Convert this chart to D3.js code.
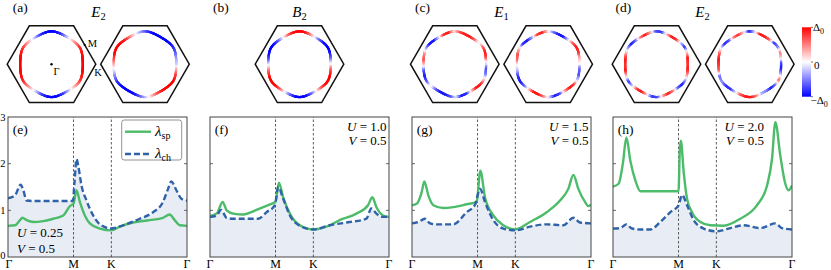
<!DOCTYPE html>
<html><head><meta charset="utf-8">
<script src="https://cdn.jsdelivr.net/npm/d3@7/dist/d3.min.js"></script>
<style>html,body{margin:0;padding:0;background:#fff;} svg{display:block;} text{font-family:"Liberation Serif","DejaVu Serif",serif;}</style>
</head><body>
<svg id="chart" width="831" height="270"></svg>
<script>
// ================= DATA =================
const pathTickPos = [0, 1, 1.5774, 2.7321];
const pathTickLabels = ["Γ", "M", "K", "Γ"];
const yTickValues = [0, 1, 2, 3];
const panelLetters = ["(e)", "(f)", "(g)", "(h)"];
const uValues = ["0.25", "1.0", "1.5", "2.0"];
const vValues = ["0.5", "0.5", "0.5", "0.5"];
const topLetters = ["(a)", "(b)", "(c)", "(d)"];
const topIrreps = [["E", "2"], ["B", "2"], ["E", "1"], ["E", "2"]];
const legendLabels = [["λ", "sp"], ["λ", "ch"]];
const colorbarLabels = ["Δ", "0", "−Δ"];

// eigenvalue curves: [path coordinate (Γ-M = 1), λ]
const spE = [[0,0.667],[0.107,0.68],[0.183,0.79],[0.218,0.84],[0.284,0.79],[0.386,0.75],[0.538,0.77],[0.691,0.82],[0.843,0.89],[0.945,1.09],[1.0,1.14],[1.046,1.43],[1.097,1.18],[1.173,0.89],[1.249,0.72],[1.402,0.61],[1.577,0.57],[1.706,0.65],[1.909,0.74],[2.163,0.79],[2.366,0.84],[2.468,0.91],[2.544,0.79],[2.620,0.68],[2.732,0.667]];
const chE = [[0,1.26],[0.107,1.32],[0.193,1.55],[0.234,1.43],[0.284,1.21],[0.386,1.2],[0.99,1.2],[1.015,1.6],[1.046,2.1],[1.071,1.96],[1.122,1.53],[1.198,1.21],[1.3,0.89],[1.402,0.70],[1.577,0.61],[1.757,0.68],[2.011,0.82],[2.214,0.96],[2.366,1.18],[2.443,1.46],[2.493,1.62],[2.570,1.43],[2.646,1.25],[2.732,1.21]];
const spF = [[0,0.88],[0.102,0.93],[0.193,1.18],[0.254,1.0],[0.355,0.93],[0.508,0.91],[0.660,0.98],[0.812,1.07],[0.939,1.14],[1.0,1.18],[1.051,1.59],[1.117,1.28],[1.219,0.93],[1.371,0.68],[1.577,0.59],[1.777,0.65],[1.980,0.79],[2.234,0.93],[2.412,1.11],[2.478,1.28],[2.539,1.07],[2.641,0.89],[2.732,0.86]];
const chF = [[0,0.86],[0.102,0.89],[0.168,1.01],[0.254,0.84],[0.355,0.82],[0.736,0.82],[0.863,0.96],[0.99,1.11],[1.041,1.5],[1.117,1.25],[1.219,0.89],[1.371,0.67],[1.577,0.59],[1.828,0.68],[2.133,0.75],[2.387,0.82],[2.463,1.04],[2.539,0.93],[2.641,0.86],[2.732,0.86]];
const spG = [[0,1.11],[0.071,1.14],[0.148,1.39],[0.188,1.62],[0.249,1.32],[0.326,1.11],[0.478,1.05],[0.631,1.07],[0.834,1.13],[0.987,1.18],[1.043,1.85],[1.114,1.28],[1.241,0.89],[1.394,0.68],[1.577,0.59],[1.801,0.75],[2.056,0.96],[2.259,1.21],[2.386,1.46],[2.463,1.76],[2.539,1.46],[2.641,1.18],[2.692,1.09],[2.732,1.12]];
const chG = [[0,0.72],[0.097,0.75],[0.198,0.82],[0.275,0.72],[0.377,0.70],[0.631,0.70],[0.834,0.96],[0.962,1.12],[1.038,1.46],[1.114,1.18],[1.241,0.79],[1.394,0.61],[1.577,0.57],[1.801,0.65],[2.056,0.70],[2.310,0.68],[2.463,0.84],[2.564,0.74],[2.732,0.72]];
const spH = [[0,1.51],[0.086,1.57],[0.153,2.03],[0.204,2.56],[0.265,2.06],[0.341,1.64],[0.417,1.41],[1.0,1.41],[1.02,2.3],[1.036,2.49],[1.079,1.82],[1.13,1.25],[1.206,0.96],[1.333,0.75],[1.486,0.68],[1.689,0.67],[1.944,0.82],[2.198,1.11],[2.351,1.53],[2.427,2.1],[2.478,2.89],[2.554,2.17],[2.630,1.57],[2.681,1.43],[2.732,1.53]];
const chH = [[0,0.61],[0.112,0.62],[0.204,0.70],[0.290,0.61],[0.417,0.59],[0.570,0.59],[0.722,0.75],[0.875,0.96],[1.002,1.11],[1.053,1.33],[1.13,1.11],[1.231,0.79],[1.384,0.61],[1.577,0.55],[1.791,0.62],[1.994,0.68],[2.249,0.62],[2.478,0.72],[2.580,0.62],[2.732,0.59]];

// gap on the Fermi surface, sampled every 10° (screen angle, clockwise from +x), in units of Δ0
const gapA1 = [1,1,0.95,0.8,0.5,0.15,-0.3,-0.75,-0.95,-1,-0.95,-0.75,-0.3,0.15,0.5,0.8,0.95,1,1,1,0.95,0.8,0.5,0.15,-0.3,-0.75,-0.95,-1,-0.95,-0.75,-0.3,0.15,0.5,0.8,0.95,1];
const gapA2 = [-0.2,0.3,0.75,0.95,1,1,0.9,0.65,0.25,-0.2,-0.6,-0.9,-1,-1,-0.95,-0.8,-0.5,-0.15,0.25,0.65,0.95,1,1,0.9,0.6,0.2,-0.25,-0.6,-0.9,-1,-1,-1,-0.95,-0.85,-0.65,-0.4];
const gapB  = [0,0.6,0.95,1,0.95,0.6,0,-0.6,-0.95,-1,-0.95,-0.6,0,0.6,0.95,1,0.95,0.6,0,-0.6,-0.95,-1,-0.95,-0.6,0,0.6,0.95,1,0.95,0.6,0,-0.6,-0.95,-1,-0.95,-0.6];
const gapC1 = [-0.2,-0.7,-0.5,0.3,0.9,0.9,0.2,-0.8,-0.9,-0.1,-0.7,-0.9,-0.9,-0.6,0.1,-0.6,-0.9,-0.7,0.2,0.7,0.5,-0.3,-0.9,-0.9,-0.2,0.8,0.9,0.1,0.7,0.9,0.9,0.6,-0.1,0.6,0.9,0.7];
const gapC2 = [0,-0.6,-0.7,-0.2,0.8,0.9,0.4,-0.7,-0.9,-0.2,0.5,0.9,0.9,0.2,-0.6,-0.9,-0.8,-0.3,0,0.6,0.7,0.2,-0.8,-0.9,-0.4,0.7,0.9,0.2,-0.5,-0.9,-0.9,-0.2,0.6,0.9,0.8,0.3];
const gapD1 = [0.8,0.9,0.5,-0.3,-0.9,-0.6,0.5,0.9,0.4,-0.7,-0.8,0.2,0.9,0.8,-0.2,-0.8,0.2,0.9,0.8,0.9,0.5,-0.3,-0.9,-0.6,0.5,0.9,0.4,-0.7,-0.8,0.2,0.9,0.8,-0.2,-0.8,0.2,0.9];
const gapD2 = [-0.8,-0.9,-0.2,0.6,-0.5,-0.9,-0.5,-0.3,0.5,0.9,0.9,0.6,-0.2,-0.8,-0.8,-0.4,-0.6,0.6,0.8,0.9,0.7,0,-0.8,-0.7,0.5,0.8,0.2,-0.9,-0.2,0.9,0.9,0.6,-0.8,-0.5,0.5,0.2];

// ================= DRAWING =================
const svg = d3.select("#chart");
const green = "#4cbb6a", blue = "#2f62a8", fillCol = "#e8edf5";
const bwr = d3.scaleLinear().domain([-1, 0, 1]).range(["#0000ff", "#ffffff", "#ff0000"]).clamp(true);

// ---------- top row: Brillouin zones with Fermi surfaces ----------
const hexR = 44.3, hexCY = 64.2;
const kUnit = hexR / (4 * Math.PI / 3);
const mu = 1.6;
const eps = (kx, ky) => -2 * (Math.cos(kx) + 2 * Math.cos(kx / 2) * Math.cos(Math.sqrt(3) * ky / 2));
function fsRadius(phi) {
  let lo = 0, hi = 3.62;
  for (let i = 0; i < 40; i++) {
    const m = (lo + hi) / 2;
    if (eps(m * Math.cos(phi), m * Math.sin(phi)) < mu) lo = m; else hi = m;
  }
  return (lo + hi) / 2;
}
function gapAt(arr, deg) {
  const p = ((deg % 360) + 360) % 360 / 10;
  const i = Math.floor(p), f = p - i;
  return arr[i % 36] * (1 - f) + arr[(i + 1) % 36] * f;
}
const hexes = [
  {cx: 51.5, gap: gapA1, marks: true},
  {cx: 145.0, gap: gapA2},
  {cx: 299.5, gap: gapB},
  {cx: 454.8, gap: gapC1},
  {cx: 548.2, gap: gapC2},
  {cx: 656.5, gap: gapD1},
  {cx: 749.8, gap: gapD2}
];
const hexLine = d3.line().curve(d3.curveLinearClosed);
const topG = svg.append("g");
hexes.forEach(h => {
  const verts = d3.range(6).map(i => [h.cx + hexR * Math.cos(i * Math.PI / 3), hexCY + hexR * Math.sin(i * Math.PI / 3)]);
  topG.append("path").attr("d", hexLine(verts)).attr("fill", "none").attr("stroke", "#111").attr("stroke-width", 1.5);
  const step = 1;
  const pts = d3.range(0, 361, step).map(d => {
    const phi = d * Math.PI / 180, r = fsRadius(phi) * kUnit;
    return [h.cx + r * Math.cos(phi), hexCY + r * Math.sin(phi)];
  });
  const segs = d3.range(0, 360, step).map(d => ({a: pts[d / step], b: pts[d / step + 1], g: gapAt(h.gap, d + step / 2)}));
  topG.selectAll(null).data(segs).enter().append("line")
    .attr("x1", s => s.a[0]).attr("y1", s => s.a[1]).attr("x2", s => s.b[0]).attr("y2", s => s.b[1])
    .attr("stroke", s => bwr(s.g)).attr("stroke-width", 2.3).attr("stroke-linecap", "round");
  if (h.marks) {
    topG.append("circle").attr("cx", h.cx).attr("cy", hexCY).attr("r", 1.2).attr("fill", "#000");
    const mx = h.cx + hexR * Math.cos(Math.PI / 6) * Math.cos(-Math.PI / 6);
    const my = hexCY + hexR * Math.cos(Math.PI / 6) * Math.sin(-Math.PI / 6);
    topG.append("circle").attr("cx", mx).attr("cy", my).attr("r", 1.1).attr("fill", "#000");
    topG.append("text").attr("x", h.cx + 2).attr("y", hexCY + 11).attr("font-size", 10.5).text("Γ");
    topG.append("text").attr("x", mx + 3).attr("y", my + 2).attr("font-size", 10.5).text("M");
    topG.append("text").attr("x", h.cx + hexR - 1.5).attr("y", hexCY + 12).attr("font-size", 10.5).text("K");
  }
});
const titleX = [98.5, 299.5, 501.5, 702.5];
const letterX = [12.7, 213, 415, 615.5];
topLetters.forEach((l, i) => {
  svg.append("text").attr("x", letterX[i]).attr("y", 11.5).attr("font-size", 13.5).text(l);
  const t = svg.append("text").attr("x", titleX[i]).attr("y", 17).attr("text-anchor", "middle").attr("font-size", 15);
  t.append("tspan").attr("font-style", "italic").text(topIrreps[i][0]);
  t.append("tspan").attr("font-size", 10.5).attr("dy", 3).text(topIrreps[i][1]);
});
// colorbar
const defs = svg.append("defs");
const grad = defs.append("linearGradient").attr("id", "cbar").attr("x1", 0).attr("x2", 0).attr("y1", 0).attr("y2", 1);
d3.range(0, 1.0001, 0.1).forEach(f => grad.append("stop").attr("offset", f).attr("stop-color", bwr(1 - 2 * f)));
const cbY = d3.scaleLinear().domain([1, -1]).range([27.3, 96.7]);
svg.append("rect").attr("x", 802).attr("y", cbY(1)).attr("width", 9).attr("height", cbY(-1) - cbY(1)).attr("fill", "url(#cbar)");
[1, 0, -1].forEach(v => svg.append("line").attr("x1", 811).attr("x2", 813).attr("y1", cbY(v)).attr("y2", cbY(v)).attr("stroke", "#333").attr("stroke-width", 0.7));
{
  const t1 = svg.append("text").attr("x", 813).attr("y", 31).attr("font-size", 11);
  t1.append("tspan").text(colorbarLabels[0]); t1.append("tspan").attr("font-size", 8).attr("dy", 2.5).text("0");
  svg.append("text").attr("x", 814).attr("y", 69).attr("font-size", 11).text(colorbarLabels[1]);
  const t3 = svg.append("text").attr("x", 810.5).attr("y", 104).attr("font-size", 11);
  t3.append("tspan").text(colorbarLabels[2]); t3.append("tspan").attr("font-size", 8).attr("dy", 2.5).text("0");
}

// ---------- bottom row: eigenvalue curves ----------
const panelLeft = [8, 210, 412, 613];
const panelW = 179;
const y = d3.scaleLinear().domain([0, 3]).range([257, 117]);
const sp = [spE, spF, spG, spH], ch = [chE, chF, chG, chH];
panelLeft.forEach((left, i) => {
  const x = d3.scaleLinear().domain([0, pathTickPos[3]]).range([left, left + panelW]);
  const g = svg.append("g");
  const clipId = "clip" + i;
  defs.append("clipPath").attr("id", clipId).append("rect").attr("x", left).attr("y", y(3)).attr("width", panelW).attr("height", y(0) - y(3));
  const inner = g.append("g").attr("clip-path", `url(#${clipId})`);
  const area = d3.area().x(d => x(d[0])).y0(y(0)).y1(d => y(d[1])).curve(d3.curveMonotoneX);
  const line = d3.line().x(d => x(d[0])).y(d => y(d[1])).curve(d3.curveMonotoneX);
  inner.append("path").attr("d", area(ch[i])).attr("fill", fillCol);
  [pathTickPos[1], pathTickPos[2]].forEach(p => inner.append("line").attr("x1", x(p)).attr("x2", x(p)).attr("y1", y(0)).attr("y2", y(3))
    .attr("stroke", "#333").attr("stroke-width", 0.8).attr("stroke-dasharray", "2.5,2"));
  inner.append("path").attr("d", line(sp[i])).attr("fill", "none").attr("stroke", green).attr("stroke-width", 2.4);
  inner.append("path").attr("d", line(ch[i])).attr("fill", "none").attr("stroke", blue).attr("stroke-width", 2.4).attr("stroke-dasharray", "6,3");
  g.append("rect").attr("x", left).attr("y", y(3)).attr("width", panelW).attr("height", y(0) - y(3))
    .attr("fill", "none").attr("stroke", "#444").attr("stroke-width", 1);
  [1, 2].forEach(v => {
    g.append("line").attr("x1", left).attr("x2", left + 3).attr("y1", y(v)).attr("y2", y(v)).attr("stroke", "#444").attr("stroke-width", 0.8);
    g.append("line").attr("x1", left + panelW - 3).attr("x2", left + panelW).attr("y1", y(v)).attr("y2", y(v)).attr("stroke", "#444").attr("stroke-width", 0.8);
  });
  pathTickPos.forEach((p, j) => g.append("text").attr("x", x(p) + (i === 0 && j === 0 ? 1 : 0)).attr("y", 268).attr("text-anchor", "middle")
    .attr("font-size", 12).text(pathTickLabels[j]));
  g.append("text").attr("x", left + 4.7).attr("y", 134).attr("font-size", 13.5).text(panelLetters[i]);
  const ann = [["U", uValues[i]], ["V", vValues[i]]];
  ann.forEach((a, k) => {
    let tx, ty, anchor;
    if (i === 0) { tx = left + 9; ty = [236.5, 253][k]; anchor = "start"; }
    else if (i === 3) { tx = 764; ty = [131, 145][k]; anchor = "end"; }
    else { tx = left + panelW - 2.5; ty = [131, 145][k]; anchor = "end"; }
    const t = g.append("text").attr("x", tx).attr("y", ty).attr("text-anchor", anchor).attr("font-size", 13);
    t.append("tspan").attr("font-style", "italic").text(a[0]);
    t.append("tspan").text(" = " + a[1]);
  });
});
yTickValues.forEach(v => svg.append("text").attr("x", 5.6).attr("y", y(v) + (v === 0 ? 1.5 : 3.5)).attr("text-anchor", "end")
  .attr("font-size", 10.5).text(v));
{
  const lg = svg.append("g");
  lg.append("rect").attr("x", 121.7).attr("y", 120).attr("width", 60).attr("height", 40).attr("rx", 2.5)
    .attr("fill", "#fff").attr("fill-opacity", 0.85).attr("stroke", "#777").attr("stroke-width", 0.8);
  const rows = [{c: green, dash: null, y: 131.7}, {c: blue, dash: "6,3", y: 154}];
  rows.forEach((r, k) => {
    const ln = lg.append("line").attr("x1", 125).attr("x2", 151).attr("y1", r.y).attr("y2", r.y).attr("stroke", r.c).attr("stroke-width", 2.4);
    if (r.dash) ln.attr("stroke-dasharray", r.dash);
    const t = lg.append("text").attr("x", 155).attr("y", r.y + 4).attr("font-size", 15);
    t.append("tspan").attr("font-style", "italic").text(legendLabels[k][0]);
    t.append("tspan").attr("font-size", 10).attr("dy", 3).text(legendLabels[k][1]);
  });
}
</script>
</body></html>
